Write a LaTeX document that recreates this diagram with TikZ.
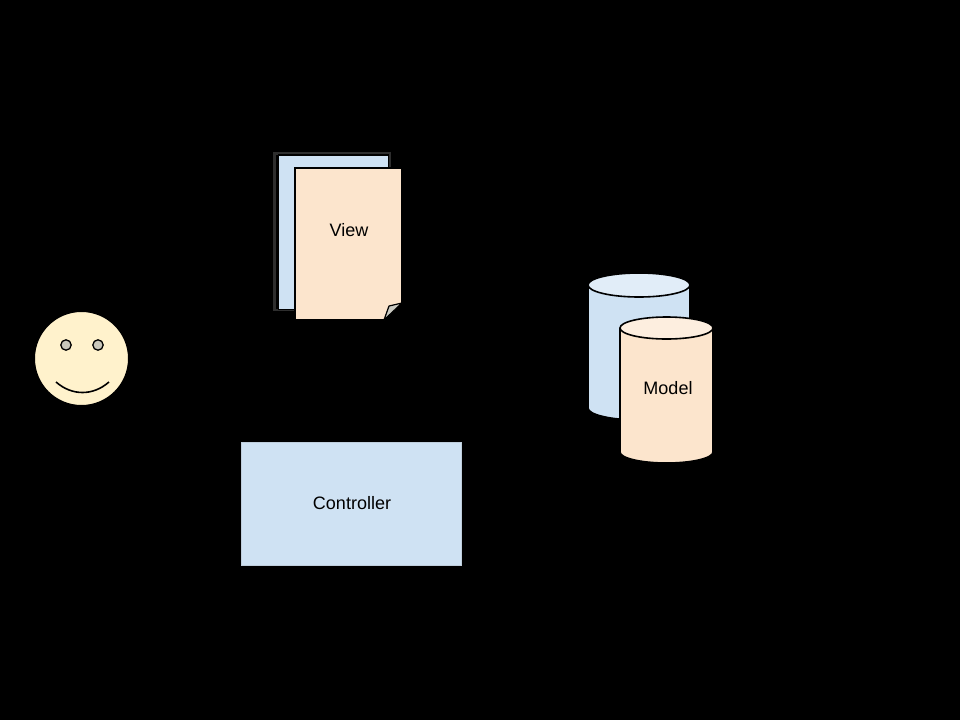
\documentclass[tikz,border=0pt]{standalone}
\usepackage{fontspec}
\setmainfont{Liberation Sans}
\definecolor{bluefill}{HTML}{CFE2F3}
\definecolor{bluetop}{HTML}{E1EDF8}
\definecolor{orangefill}{HTML}{FCE5CD}
\definecolor{orangetop}{HTML}{FDEEDF}
\definecolor{facefill}{HTML}{FFF2CC}
\definecolor{eyefill}{HTML}{C9C7BB}
\definecolor{foldfill}{HTML}{CACAC2}
\definecolor{edgegray}{HTML}{2E2E2E}
\tikzset{
  lbl/.style={font=\fontsize{18}{21}\selectfont, text=black, inner sep=0pt},
  outl/.style={draw=black, line width=1.6pt},
}
\begin{document}
\begin{tikzpicture}[x=1pt,y=-1pt]
\useasboundingbox[fill=black] (0,0) rectangle (960,720);
% ---- View (pages)
\draw[edgegray, line width=2.5pt] (274.5,153.5) rectangle (390,310);
\draw[black, line width=1.4pt, fill=bluefill] (278.5,155) rectangle (388.5,309.5);
\draw[outl, fill=orangefill] (295,168) -- (402,168) -- (402,303) -- (384,320) -- (295,320) -- cycle;
\draw[black, line width=1.2pt, fill=foldfill, line join=round] (384,320) -- (389,306) -- (402,303) -- cycle;
\node[lbl] (view) at (349,230) {View};
% ---- Model (cylinders)
\draw[outl, fill=bluefill] (588,285) -- (588,408) arc[start angle=180, end angle=0, x radius=51, y radius=12] -- (690,285);
\draw[outl, fill=bluetop] (639,285) ellipse[x radius=51, y radius=12];
\draw[outl, fill=orangefill] (620,328) -- (620,452) arc[start angle=180, end angle=0, x radius=46.5, y radius=11] -- (713,328);
\draw[outl, fill=orangetop] (666.5,328) ellipse[x radius=46.5, y radius=11];
\node[lbl] (model) at (668,388) {Model};
% ---- User (smiley)
\node[circle, draw=black, line width=2pt, fill=facefill, minimum size=95pt, inner sep=0pt] (user) at (81.5,358.5) {};
\draw[black, line width=1.3pt, fill=eyefill] (66,345) circle[radius=5.2];
\draw[black, line width=1.3pt, fill=eyefill] (98,345) circle[radius=5.2];
\draw[black, line width=1.6pt] (56,382) .. controls (72,396) and (93,396) .. (109,382);
% ---- Controller
\node[draw=bluefill!80!gray, line width=0.6pt, fill=bluefill, minimum width=220pt, minimum height=123pt, inner sep=0pt] (ctrlbox) at (351,503.5) {};
\node[lbl] (controller) at (352,503) {Controller};
\end{tikzpicture}
\end{document}
